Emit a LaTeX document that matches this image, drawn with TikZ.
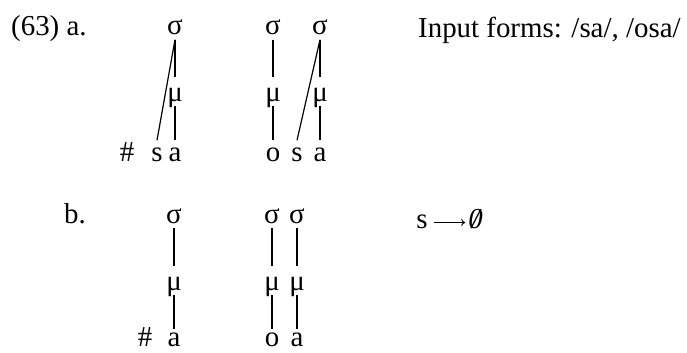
\documentclass[tikz,border=0pt]{standalone}
\usepackage{fontspec}
\setmainfont{Liberation Serif}
\usetikzlibrary{arrows.meta}
\begin{document}
\begin{tikzpicture}[x=1bp,y=-1bp,
  every node/.style={inner sep=0pt, font=\fontsize{29}{33}\selectfont},
  sig/.style={anchor=base, text height=11bp, text depth=5bp},
  mu/.style={anchor=base, text height=24bp, text depth=5bp},
  seg/.style={anchor=base, text height=21bp, text depth=0bp},
  segb/.style={anchor=base, text height=17bp, text depth=0bp},
  lab/.style={anchor=base west},
  rulesym/.style={anchor=base, text height=11bp, text depth=0bp, inner xsep=6bp},
  assoc/.style={line width=1.2bp}]
\clip (0,0) rectangle (687,352);
\fill[white] (0,0) rectangle (687,352);
% ---- row a ----
\node[lab] (n63) at (11,35) {(63) a.};
\node[sig] (a1s) at (175,34.5) {σ};
\node[mu]  (a1m) at (175,101) {μ};
\node[seg] (a1h) at (127,161.5) {\#};
\node[seg] (a1c) at (157,161.5) {s};
\node[seg] (a1v) at (175,161.5) {a};
\draw[assoc] (a1s.south) -- (a1m.north);
\draw[assoc] (a1m.south) -- (a1v.north);
\draw[assoc] (a1s.south) -- (a1c.north);
\node[sig] (a2s1) at (273,34.5) {σ};
\node[sig] (a2s2) at (320,34.5) {σ};
\node[mu]  (a2m1) at (273,101) {μ};
\node[mu]  (a2m2) at (320,101) {μ};
\node[seg] (a2o) at (273,161.5) {o};
\node[seg] (a2c) at (297,161.5) {s};
\node[seg] (a2v) at (320,161.5) {a};
\draw[assoc] (a2s1.south) -- (a2m1.north);
\draw[assoc] (a2m1.south) -- (a2o.north);
\draw[assoc] (a2s2.south) -- (a2m2.north);
\draw[assoc] (a2m2.south) -- (a2v.north);
\draw[assoc] (a2s2.south) -- (a2c.north);
\node[lab] (inp) at (418,37) {Input forms: /sa/, /osa/};
% ---- row b ----
\node[lab] (nb) at (64,223) {b.};
\node[sig] (b1s) at (174,223) {σ};
\node[mu]  (b1m) at (174,290) {μ};
\node[segb] (b1h) at (145,346) {\#};
\node[segb] (b1v) at (174,346) {a};
\draw[assoc] (b1s.south) -- (b1m.north);
\draw[assoc] (b1m.south) -- (b1v.north);
\node[sig] (b2s1) at (272,223) {σ};
\node[sig] (b2s2) at (297,223) {σ};
\node[mu]  (b2m1) at (272,290) {μ};
\node[mu]  (b2m2) at (297,290) {μ};
\node[segb] (b2o) at (272,346) {o};
\node[segb] (b2v) at (297,346) {a};
\draw[assoc] (b2s1.south) -- (b2m1.north);
\draw[assoc] (b2m1.south) -- (b2o.north);
\draw[assoc] (b2s2.south) -- (b2m2.north);
\draw[assoc] (b2m2.south) -- (b2v.north);
% rule
\node[rulesym] (rs) at (422,228) {s};
\node[rulesym, inner xsep=3bp] (rz) at (474,228) {\itshape\makebox[0pt][l]{0}\kern0.11em/};
\draw[line width=0.9bp, -{To[length=4bp,width=7bp]}] (rs.east) -- (rz.west);
\end{tikzpicture}
\end{document}
